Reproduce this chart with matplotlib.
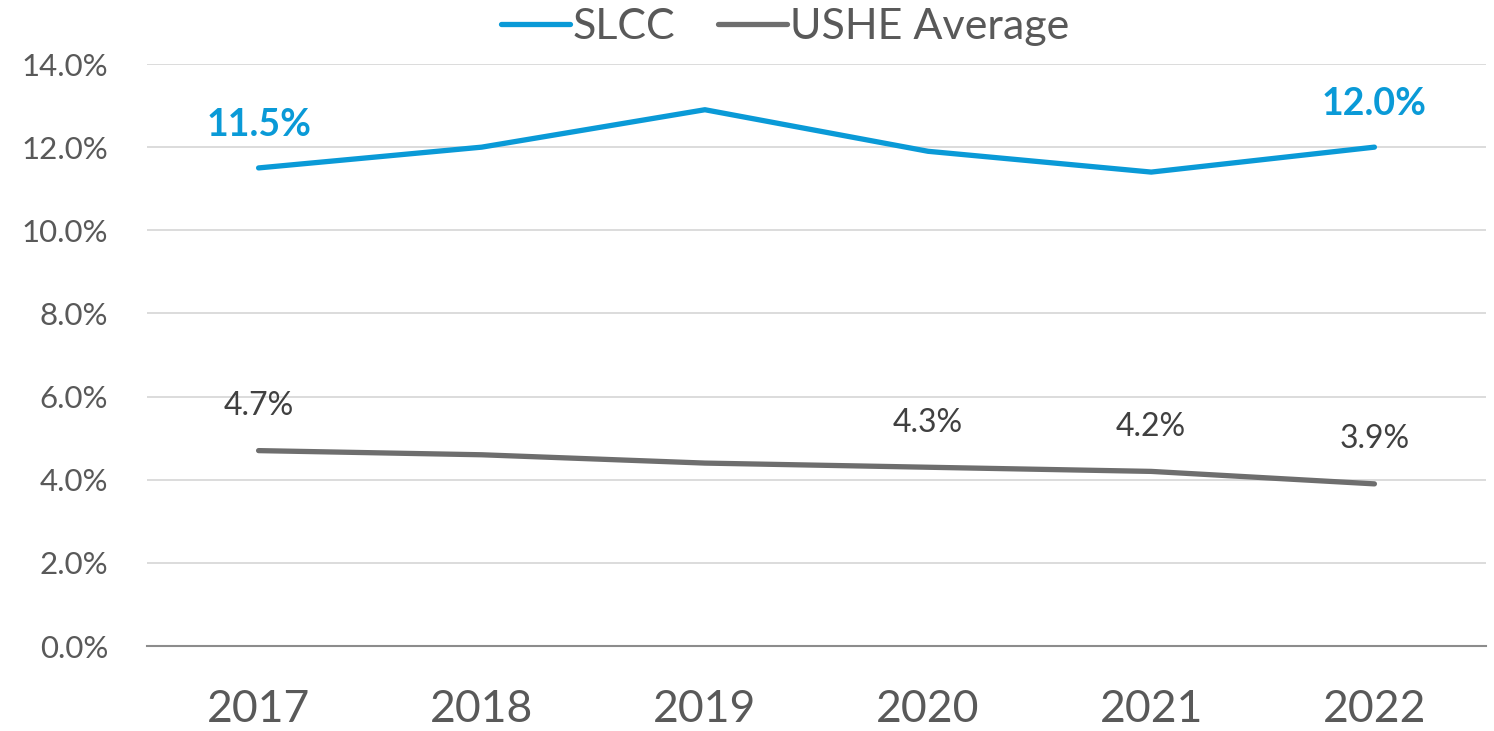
import matplotlib
matplotlib.use("Agg")
import matplotlib.pyplot as plt
from matplotlib.ticker import FuncFormatter

years = ["2017", "2018", "2019", "2020", "2021", "2022"]
slcc = [11.5, 12.0, 12.9, 11.9, 11.4, 12.0]
ushe = [4.7, 4.6, 4.4, 4.3, 4.2, 3.9]
slcc_labels = {0: "11.5%", 5: "12.0%"}
ushe_labels = {0: "4.7%", 3: "4.3%", 4: "4.2%", 5: "3.9%"}

plt.rcParams['font.family'] = ['Lato', 'DejaVu Sans']

W, H = 1494, 731
fig = plt.figure(figsize=(W / 100, H / 100), dpi=100)
ax = fig.add_axes([147 / W, 1 - 646 / H, (1486 - 147) / W, (646 - 64) / H])

blue = "#0A9AD7"
gray = "#6E6E6E"
x = list(range(len(years)))
ax.plot(x, slcc, color=blue, lw=3.8, solid_capstyle="round", label="SLCC", zorder=3)
ax.plot(x, ushe, color=gray, lw=3.8, solid_capstyle="round", label="USHE Average", zorder=3)

for i, t in slcc_labels.items():
    ax.annotate(t, (i, slcc[i]), xytext=(0, 31), textcoords="offset points",
                ha="center", va="center", color=blue, fontsize=27, fontweight="bold")
for i, t in ushe_labels.items():
    ax.annotate(t, (i, ushe[i]), xytext=(0, 32), textcoords="offset points",
                ha="center", va="center", color="#404040", fontsize=23)

ax.set_xlim(-0.5, len(years) - 0.5)
ax.set_ylim(0, 14)
ax.set_yticks([0, 2, 4, 6, 8, 10, 12, 14])
ax.yaxis.set_major_formatter(FuncFormatter(lambda v, p: f"{v:.1f}%"))
ax.set_xticks(x)
ax.set_xticklabels(years)
ax.grid(axis="y", color="#D9D9D9", lw=1.3)
ax.set_axisbelow(True)
for s in ["top", "right", "left"]:
    ax.spines[s].set_visible(False)
ax.spines["bottom"].set_color("#8C8C8C")
ax.spines["bottom"].set_linewidth(1.5)
ax.spines["bottom"].set_zorder(2)
ax.tick_params(axis="both", length=0)
ax.tick_params(axis="y", labelsize=22.5, labelcolor="#595959", pad=28)
ax.tick_params(axis="x", labelsize=32, labelcolor="#595959", pad=31)

fig.legend(loc="center", bbox_to_anchor=(785 / W, 1 - 27 / H), ncol=2, frameon=False,
           fontsize=31, handlelength=1.6, handletextpad=0.06, columnspacing=1.0,
           labelcolor="#595959")

fig.savefig("out.png", dpi=100, facecolor="white")
